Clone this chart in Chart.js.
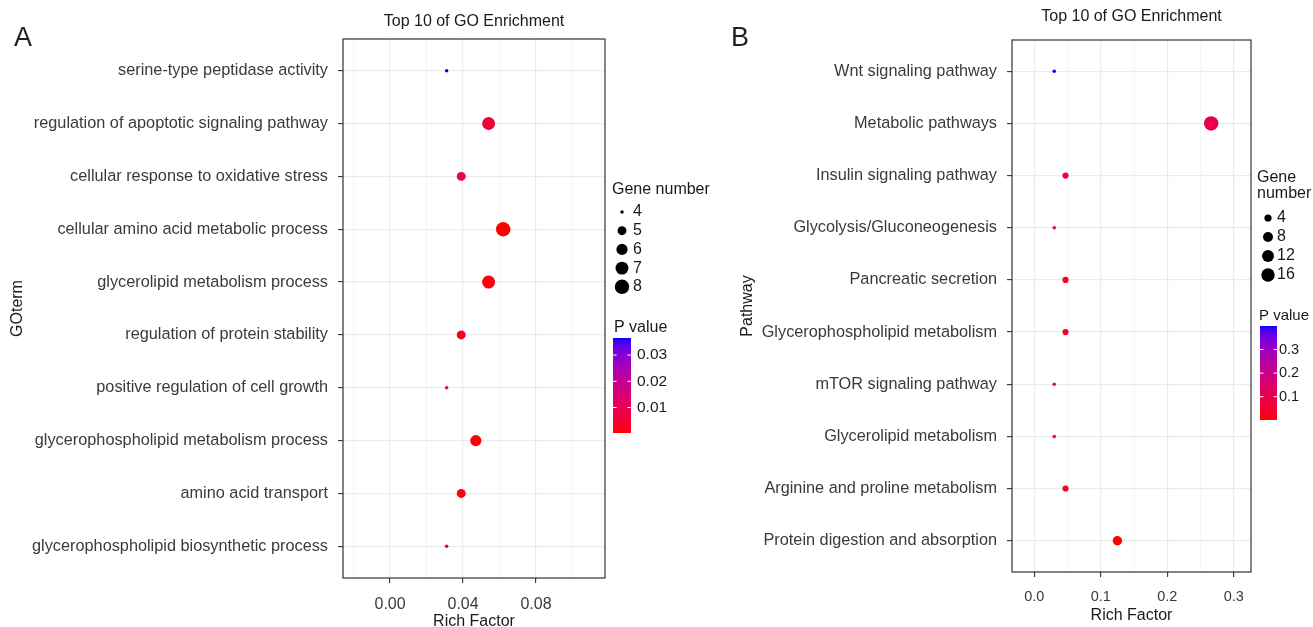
<!DOCTYPE html>
<html><head><meta charset="utf-8">
<script src="https://cdn.jsdelivr.net/npm/chart.js@4.4.1/dist/chart.umd.min.js"></script>
<style>
html,body{margin:0;padding:0;background:#fff;}
body{width:1313px;height:627px;position:relative;overflow:hidden;font-family:'Liberation Sans',Arial,sans-serif;}
canvas{position:absolute;top:0;}
.letter{position:absolute;font-size:27px;line-height:27px;color:#231f20;z-index:5;}
</style></head><body>
<canvas id="cA" width="720" height="627" style="left:0"></canvas>
<canvas id="cB" width="593" height="627" style="left:720px"></canvas>
<div class="letter" style="left:14px;top:24px">A</div>
<div class="letter" style="left:731px;top:24px">B</div>
<script>
// ---------- Panel A data (GO terms) ----------
const goTerms = [
  "serine-type peptidase activity",
  "regulation of apoptotic signaling pathway",
  "cellular response to oxidative stress",
  "cellular amino acid metabolic process",
  "glycerolipid metabolism process",
  "regulation of protein stability",
  "positive regulation of cell growth",
  "glycerophospholipid metabolism process",
  "amino acid transport",
  "glycerophospholipid biosynthetic process"
];
const goRichFactor = [0.031, 0.054, 0.039, 0.062, 0.054, 0.039, 0.031, 0.047, 0.039, 0.031];
const goGeneNumber = [4, 7, 5, 8, 7, 5, 4, 6, 5, 4];
const goPValue     = [0.0365, 0.0055, 0.0085, 0.0003, 0.0012, 0.003, 0.0015, 0.0008, 0.0018, 0.0022];
const goXTicks      = [-0.02, 0, 0.02, 0.04, 0.06, 0.08, 0.10];
const goXTickLabels = [0, 0.04, 0.08];
const goSizeBreaks  = [4, 5, 6, 7, 8];
const goPTicks      = [0.01, 0.02, 0.03];

// ---------- Panel B data (KEGG pathways) ----------
const pathways = [
  "Wnt signaling pathway",
  "Metabolic pathways",
  "Insulin signaling pathway",
  "Glycolysis/Gluconeogenesis",
  "Pancreatic secretion",
  "Glycerophospholipid metabolism",
  "mTOR signaling pathway",
  "Glycerolipid metabolism",
  "Arginine and proline metabolism",
  "Protein digestion and absorption"
];
const kgRichFactor = [0.030, 0.266, 0.047, 0.030, 0.047, 0.047, 0.030, 0.030, 0.047, 0.125];
const kgGeneNumber = [2, 19, 3, 2, 3, 3, 2, 2, 3, 7];
const kgPValue     = [0.40, 0.10, 0.05, 0.07, 0.035, 0.04, 0.03, 0.03, 0.03, 0.001];
const kgXTicks      = [0, 0.05, 0.1, 0.15, 0.2, 0.25, 0.3];
const kgXTickLabels = [0, 0.1, 0.2, 0.3];
const kgSizeBreaks  = [4, 8, 12, 16];
const kgPTicks      = [0.1, 0.2, 0.3];

// ---------- helpers ----------
Chart.defaults.font.family = "'Liberation Sans', Arial, sans-serif";
function toLin(c){c/=255;return c<=0.04045?c/12.92:Math.pow((c+0.055)/1.055,2.4);}
function toSrgb(c){c=c<=0.0031308?12.92*c:1.055*Math.pow(c,1/2.4)-0.055;return Math.round(Math.max(0,Math.min(1,c))*255);}
function rgb2lab(r,g,b){
  r=toLin(r);g=toLin(g);b=toLin(b);
  const X=(0.4124*r+0.3576*g+0.1805*b)/0.95047, Y=0.2126*r+0.7152*g+0.0722*b, Z=(0.0193*r+0.1192*g+0.9505*b)/1.08883;
  const f=t=>t>0.008856?Math.cbrt(t):7.787*t+16/116;
  return [116*f(Y)-16, 500*(f(X)-f(Y)), 200*(f(Y)-f(Z))];
}
function lab2rgb(L,a,b){
  const fy=(L+16)/116, fx=fy+a/500, fz=fy-b/200;
  const fi=t=>t*t*t>0.008856?t*t*t:(t-16/116)/7.787;
  const X=fi(fx)*0.95047, Y=fi(fy), Z=fi(fz)*1.08883;
  const r=3.2406*X-1.5372*Y-0.4986*Z, g=-0.9689*X+1.8758*Y+0.0415*Z, bb=0.0557*X-0.2040*Y+1.0570*Z;
  return 'rgb('+toSrgb(r)+','+toSrgb(g)+','+toSrgb(bb)+')';
}
const LOW = rgb2lab(255,0,0), HIGH = rgb2lab(0,0,255);
function gradColor(t){
  t=Math.max(0,Math.min(1,t));
  return lab2rgb(LOW[0]+(HIGH[0]-LOW[0])*t, LOW[1]+(HIGH[1]-LOW[1])*t, LOW[2]+(HIGH[2]-LOW[2])*t);
}
const near=(a,b)=>Math.abs(a-b)<1e-9;

function makePanel(o){
  const W=o.width, H=627;
  const pmin=Math.min(...o.p), pmax=Math.max(...o.p);
  const gmin=Math.min(...o.genes), gmax=Math.max(...o.genes);
  const rMin=1.75, rMax=7.2;
  const radius=g=>rMin+(rMax-rMin)*Math.sqrt((g-gmin)/(gmax-gmin));
  const pcol=p=>gradColor((p-pmin)/(pmax-pmin));
  const isMajor=v=>o.xLabels.some(m=>near(m,v));
  const lg=o.legend;

  const framePlugin={
    id:'frameLegend',
    afterDraw(chart){
      const ctx=chart.ctx, a=chart.chartArea;
      ctx.save();
      ctx.strokeStyle='#333'; ctx.lineWidth=1.2;
      ctx.strokeRect(a.left, a.top, a.right-a.left, a.bottom-a.top);
      // size legend
      ctx.textBaseline='middle'; ctx.textAlign='left';
      ctx.font="16px 'Liberation Sans', Arial, sans-serif"; ctx.fillStyle='#1a1a1a';
      lg.title.forEach((t,i)=>ctx.fillText(t, lg.x, lg.titleY+i*16));
      ctx.font=lg.numFont;
      o.sizeBreaks.forEach((g,i)=>{
        const y=lg.dotY0+i*lg.dotDy;
        ctx.beginPath(); ctx.arc(lg.dotX, y, radius(g), 0, Math.PI*2); ctx.fillStyle='#000'; ctx.fill();
        ctx.fillStyle='#1a1a1a'; ctx.fillText(String(g), lg.numX, y);
      });
      // colour bar
      ctx.font=lg.pTitleFont;
      ctx.fillText('P value', lg.pTitleX, lg.pTitleY);
      const bx=lg.barX, bw=lg.barW, bt=lg.barTop, bb=lg.barBottom;
      const grad=ctx.createLinearGradient(0,bb,0,bt);
      for(let i=0;i<=40;i++) grad.addColorStop(i/40, gradColor(i/40));
      ctx.fillStyle=grad; ctx.fillRect(bx,bt,bw,bb-bt);
      ctx.strokeStyle='#fff'; ctx.lineWidth=1;
      ctx.font=lg.pFont; ctx.fillStyle='#1a1a1a';
      o.pTicks.forEach(v=>{
        const y=bb-(v-pmin)/(pmax-pmin)*(bb-bt);
        ctx.beginPath(); ctx.moveTo(bx,y); ctx.lineTo(bx+bw/5,y); ctx.moveTo(bx+bw*4/5,y); ctx.lineTo(bx+bw,y); ctx.stroke();
        ctx.fillText(v.toFixed(o.pDec), lg.pLabelX, y);
      });
      ctx.restore();
    }
  };

  return new Chart(document.getElementById(o.canvas), {
    type:'scatter',
    data:{datasets:[{
      data:o.rich.map((x,i)=>({x:x, y:i})),
      pointRadius:c=>radius(o.genes[c.dataIndex]),
      pointHoverRadius:c=>radius(o.genes[c.dataIndex]),
      pointBackgroundColor:c=>pcol(o.p[c.dataIndex]),
      pointBorderWidth:0
    }]},
    options:{
      responsive:false, animation:false, events:[],
      layout:{padding:{left:0, top:0, right:W-o.plotRight, bottom:0}},
      plugins:{
        legend:{display:false}, tooltip:{enabled:false},
        title:{display:true, text:'Top 10 of GO Enrichment', fullSize:false, color:'#1a1a1a',
          font:{size:16, weight:'normal', lineHeight:1}, padding:o.titlePad}
      },
      scales:{
        x:{type:'linear', min:o.xmin, max:o.xmax,
          afterBuildTicks:s=>{s.ticks=o.xTicks.map(v=>({value:v}));},
          afterFit:s=>{s.height=H-o.plotBottom;},
          border:{display:false},
          grid:{color:c=>isMajor(c.tick.value)?'#ebebeb':'#f2f2f2', lineWidth:c=>isMajor(c.tick.value)?1.2:0.7,
                tickColor:c=>isMajor(c.tick.value)?'#333':'rgba(0,0,0,0)', tickLength:5, tickWidth:1.1},
          ticks:{autoSkip:false, maxRotation:0, color:'#3a3a3a', font:{size:o.xTickSize}, padding:o.xTickPad,
                 callback:v=>isMajor(v)?Number(v).toFixed(o.xDec):''},
          title:{display:true, text:'Rich Factor', color:'#1a1a1a', font:{size:16, lineHeight:1}, padding:o.xTitlePad}
        },
        y:{type:'linear', reverse:true, min:-0.6, max:o.cats.length-0.4,
          afterBuildTicks:s=>{s.ticks=o.cats.map((c,i)=>({value:i}));},
          afterFit:s=>{s.width=o.plotLeft;},
          border:{display:false},
          grid:{color:'#ebebeb', lineWidth:1.2, tickColor:'#333', tickLength:5, tickWidth:1.1},
          ticks:{autoSkip:false, color:'#3a3a3a', font:{size:16.3}, padding:10, callback:v=>o.cats[v]},
          title:{display:true, text:o.yTitle, color:'#1a1a1a', font:{size:16, lineHeight:1}, padding:{top:o.yTitleOff, bottom:0}}
        }
      }
    },
    plugins:[framePlugin]
  });
}

makePanel({canvas:'cA', width:720, cats:goTerms, rich:goRichFactor, genes:goGeneNumber, p:goPValue,
  xmin:-0.0258, xmax:0.1178, xTicks:goXTicks, xLabels:goXTickLabels, xDec:2, xTickSize:16, xTickPad:12,
  xTitlePad:{top:0,bottom:-3}, yTitle:'GOterm', yTitleOff:10,
  plotLeft:343, plotRight:605, plotBottom:578, titlePad:{top:14,bottom:9},
  sizeBreaks:goSizeBreaks, pTicks:goPTicks, pDec:2,
  legend:{title:['Gene number'], x:612, titleY:190, dotX:622, numX:633, dotY0:212, dotDy:18.7,
    numFont:"16px 'Liberation Sans', Arial, sans-serif",
    pTitleX:614, pTitleY:328, pTitleFont:"16px 'Liberation Sans', Arial, sans-serif",
    barX:613, barW:18, barTop:338, barBottom:433, pLabelX:637, pFont:"15.5px 'Liberation Sans', Arial, sans-serif"}
});

makePanel({canvas:'cB', width:593, cats:pathways, rich:kgRichFactor, genes:kgGeneNumber, p:kgPValue,
  xmin:-0.0335, xmax:0.3259, xTicks:kgXTicks, xLabels:kgXTickLabels, xDec:1, xTickSize:14.5, xTickPad:11,
  xTitlePad:{top:0,bottom:3}, yTitle:'Pathway', yTitleOff:20,
  plotLeft:292, plotRight:531, plotBottom:572, titlePad:{top:9,bottom:15},
  sizeBreaks:kgSizeBreaks, pTicks:kgPTicks, pDec:1,
  legend:{title:['Gene','number'], x:537, titleY:178, dotX:548, numX:557, dotY0:218, dotDy:19,
    numFont:"16px 'Liberation Sans', Arial, sans-serif",
    pTitleX:539, pTitleY:316, pTitleFont:"15px 'Liberation Sans', Arial, sans-serif",
    barX:540, barW:17, barTop:326, barBottom:420, pLabelX:559, pFont:"14.5px 'Liberation Sans', Arial, sans-serif"}
});
</script>
</body></html>
